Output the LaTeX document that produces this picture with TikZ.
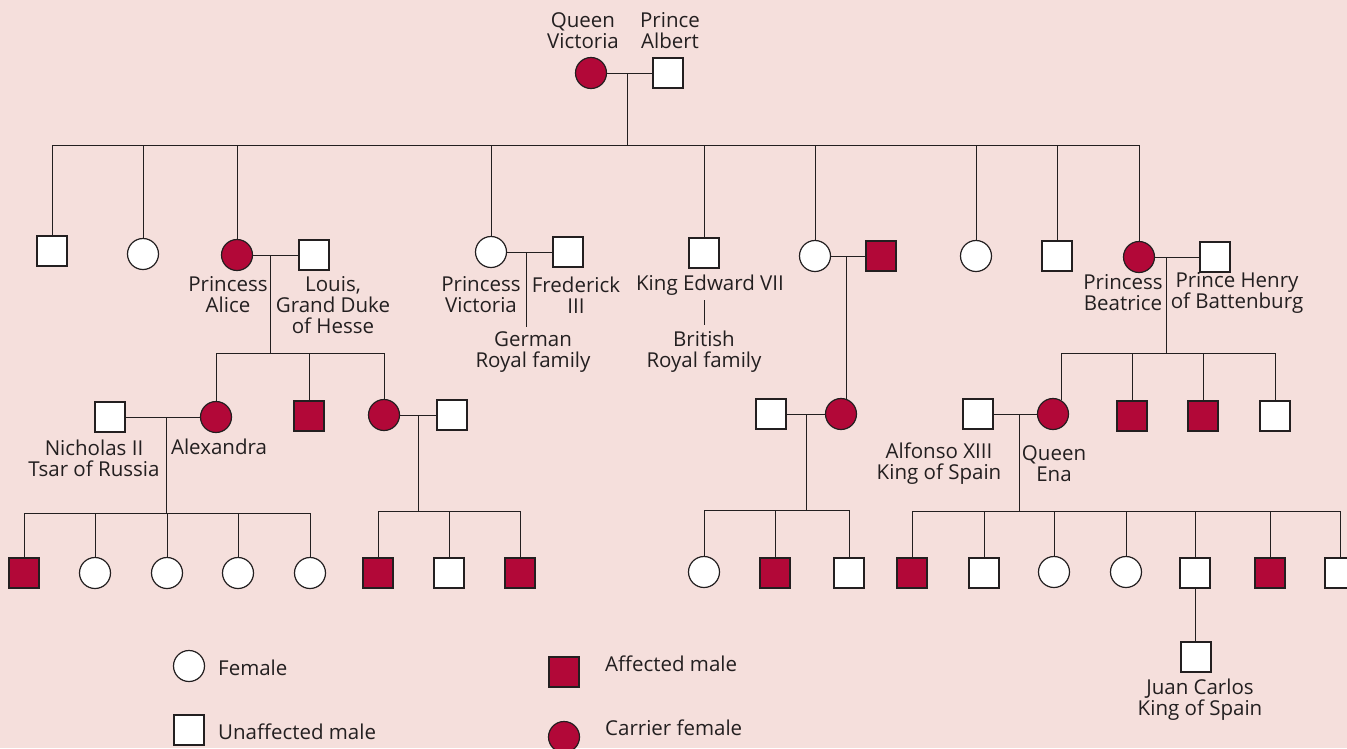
\documentclass[tikz,border=0pt]{standalone}
\usepackage{fontspec}
\setmainfont{Open Sans}
\definecolor{bg}{RGB}{245,223,220}
\definecolor{dred}{RGB}{178,8,56}
\definecolor{ink}{RGB}{35,31,32}
\begin{document}
\begin{tikzpicture}[x=1pt,y=-1pt,
  sq/.style={rectangle,draw=ink,line width=1.2pt,fill=white,minimum size=30pt,inner sep=0pt},
  aff/.style={sq,fill=dred},
  fem/.style={circle,draw=ink,line width=1.2pt,fill=white,minimum size=31pt,inner sep=0pt},
  car/.style={fem,fill=dred},
  lbl/.style={font=\fontsize{20.5}{21}\selectfont,text=ink,align=center,inner sep=0pt},
  lgd/.style={lbl,anchor=west},
  ln/.style={draw=ink,line width=1pt}]
\useasboundingbox (0,0) rectangle (1347,748);
\clip (0,0) rectangle (1347,748);
\fill[bg] (0,0) rectangle (1347,748);

% generation 0
\node[car] (qv) at (591,73) {};
\node[sq] (pa) at (668,73) {};
\node[lbl] (qvl) at (583,31) {Queen\\Victoria};
\node[lbl] (pal) at (670,31) {Prince\\Albert};
\draw[ln] (qv) -- (pa);
\coordinate (m0) at (627,73);
\coordinate (b1) at (627,145);
\draw[ln] (m0) -- (b1);

% generation 1
\node[sq]  (k1)    at (52,251) {};
\node[fem] (k2)    at (143,254) {};
\node[car] (alice) at (237,255) {};
\node[sq]  (louis) at (314,255) {};
\node[fem] (pvic)  at (491,252) {};
\node[sq]  (fred)  at (568,252) {};
\node[sq]  (edw)   at (704,253) {};
\node[fem] (hel)   at (815,256) {};
\node[aff] (helh)  at (881,256) {};
\node[fem] (k8)    at (976,256) {};
\node[sq]  (k9)    at (1057,256) {};
\node[car] (bea)   at (1139,257) {};
\node[sq]  (hen)   at (1215,257) {};
\draw[ln] (k1.north |- b1) -- (bea.north |- b1);
\foreach \c in {k1,k2,alice,pvic,edw,hel,k8,k9,bea}
  \draw[ln] (\c.north) -- (\c.north |- b1);

\node[lbl] (alicel) at (228,295) {Princess\\Alice};
\node[lbl] (louisl) at (333,305) {Louis,\\Grand Duke\\of Hesse};
\node[lbl] (pvicl) at (481,295) {Princess\\Victoria};
\node[lbl] (fredl) at (576,295) {Frederick\\III};
\node[lbl] (edwl) at (710,285) {King Edward VII};
\node[lbl] (germ) at (533,352) {German\\Royal family};
\node[lbl] (brit) at (704,352) {British\\Royal family};
\node[lbl] (beal) at (1123,293) {Princess\\Beatrice};
\node[lbl] (henl) at (1237,293) {Prince Henry\\of Battenburg};

% Princess Victoria + Frederick
\draw[ln] (pvic) -- (fred);
\coordinate (mv) at (526,252);
\draw[ln] (mv) -- ([yshift=4pt]mv |- germ.north);
% Edward
\draw[ln] ([yshift=-5pt]edwl.south -| edw) -- ([yshift=6pt]brit.north -| edw);

% Alice + Louis
\draw[ln] (alice) -- (louis);
\coordinate (ma) at (270,255);
\coordinate (b2) at (270,353);
\draw[ln] (ma) -- (b2);
\node[sq]  (nic)   at (110,417) {};
\node[car] (alex)  at (216,417) {};
\node[aff] (ason)  at (309,416) {};
\node[car] (adau)  at (384,415) {};
\node[sq]  (adauh) at (452,415) {};
\draw[ln] (alex.north |- b2) -- (adau.north |- b2);
\foreach \c in {alex,ason,adau}
  \draw[ln] (\c.north) -- (\c.north |- b2);
\node[lbl] (nicl) at (94,458) {Nicholas II\\Tsar of Russia};
\node[lbl] (alexl) at (219,447) {Alexandra};

% Nicholas + Alexandra
\draw[ln] (nic) -- (alex);
\coordinate (mn) at (166,417);
\coordinate (b3) at (166,513);
\draw[ln] (mn) -- (b3);
\node[aff] (n1) at (24,573) {};
\node[fem] (n2) at (95,573) {};
\node[fem] (n3) at (167,573) {};
\node[fem] (n4) at (238,573) {};
\node[fem] (n5) at (310,573) {};
\draw[ln] (n1.north |- b3) -- (n5.north |- b3);
\foreach \c in {n1,n2,n3,n4,n5}
  \draw[ln] (\c.north) -- (\c.north |- b3);

% Alice's daughter + husband
\draw[ln] (adau) -- (adauh);
\coordinate (md) at (418,415);
\coordinate (b4) at (418,511);
\draw[ln] (md) -- (b4);
\node[aff] (g1) at (378,573) {};
\node[sq]  (g2) at (449,573) {};
\node[aff] (g3) at (520,573) {};
\draw[ln] (g1.north |- b4) -- (g3.north |- b4);
\foreach \c in {g1,g2,g3}
  \draw[ln] (\c.north) -- (\c.north |- b4);

% Helena + husband
\draw[ln] (hel) -- (helh);
\coordinate (mh) at (846,256);
\node[car] (hd)  at (841,414) {};
\node[sq]  (hdh) at (771,414) {};
\draw[ln] (mh) -- (mh |- hd.70);
\draw[ln] (hdh) -- (hd);
\coordinate (mhd) at (806,414);
\coordinate (b5) at (806,510);
\draw[ln] (mhd) -- (b5);
\node[fem] (h1) at (704,572) {};
\node[aff] (h2) at (775,573) {};
\node[sq]  (h3) at (849,573) {};
\draw[ln] (h1.north |- b5) -- (h3.north |- b5);
\foreach \c in {h1,h2,h3}
  \draw[ln] (\c.north) -- (\c.north |- b5);

% Beatrice + Henry
\draw[ln] (bea) -- (hen);
\coordinate (mb) at (1166,257);
\coordinate (b6) at (1166,353);
\draw[ln] (mb) -- (b6);
\node[car] (ena) at (1053,414) {};
\node[aff] (bb2) at (1132,416) {};
\node[aff] (bb3) at (1203,416) {};
\node[sq]  (bb4) at (1275,416) {};
\node[sq]  (alf) at (978,414) {};
\draw[ln] (ena.60 |- b6) -- (bb4.north |- b6);
\draw[ln] (ena.60) -- (ena.60 |- b6);
\foreach \c in {bb2,bb3,bb4}
  \draw[ln] (\c.north) -- (\c.north |- b6);
\node[lbl] (alfl) at (939,464) {Alfonso XIII\\King of Spain};
\node[lbl] (enal) at (1054,464) {Queen\\Ena};

% Alfonso + Ena
\draw[ln] (alf) -- (ena);
\coordinate (me) at (1019,414);
\coordinate (b7) at (1019,511);
\draw[ln] (me) -- (b7);
\node[aff] (e1) at (912,573) {};
\node[sq]  (e2) at (984,573) {};
\node[fem] (e3) at (1054,572) {};
\node[fem] (e4) at (1126,572) {};
\node[sq]  (e5) at (1195,573) {};
\node[aff] (e6) at (1270,573) {};
\node[sq]  (e7) at (1340,573) {};
\draw[ln] (e1.north |- b7) -- (e7.north |- b7);
\foreach \c in {e1,e2,e3,e4,e5,e6,e7}
  \draw[ln] (\c.north) -- (\c.north |- b7);

% Juan Carlos
\node[sq] (jc) at (1196,657) {};
\draw[ln] (e5.south) -- (e5.south |- jc.north);
\node[lbl] (jcl) at (1200,700) {Juan Carlos\\King of Spain};

% legend
\node[fem] (lf) at (189,666) {};
\node[lgd] (lft) at (218,668) {Female};
\node[sq] (lu) at (189,730) {};
\node[lgd] (lut) at (218,732) {Unaffected male};
\node[aff] (la) at (564,672) {};
\node[lgd] (lat) at (605,664) {Affected male};
\node[car] (lc) at (564,737) {};
\node[lgd] (lct) at (605,728) {Carrier female};
\end{tikzpicture}
\end{document}
